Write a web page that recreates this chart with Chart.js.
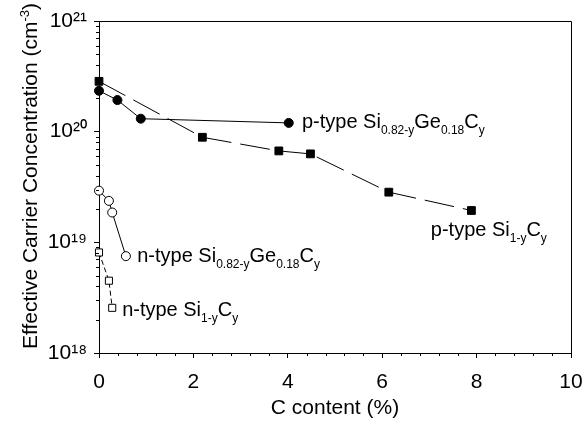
<!DOCTYPE html>
<html>
<head>
<meta charset="utf-8">
<script src="https://cdn.jsdelivr.net/npm/chart.js@4"></script>
<style>
  html, body { margin: 0; padding: 0; background: #fff; }
  #grafico { display: block; }
</style>
</head>
<body>
<canvas id="grafico" width="584" height="424"></canvas>
<script>
// valores
const xPGe = [0, 0.39, 0.885, 4.02];
const yPGe = [2.34e20, 1.93e20, 1.31e20, 1.2e20];

const xPSi = [0, 2.19, 3.81, 4.48, 6.14, 7.89];
const yPSi = [2.85e20, 8.9e19, 6.7e19, 6.3e19, 2.84e19, 1.94e19];

const xNGe = [0, 0.21, 0.28, 0.57];
const yNGe = [2.93e19, 2.37e19, 1.86e19, 7.5e18];

const xNSi = [0, 0.21, 0.28];
const yNSi = [8.1e18, 4.5e18, 2.56e18];

const xTicks = [0, 2, 4, 6, 8, 10];
const yTicks = [1e18, 1e19, 1e20, 1e21];
const yTickLabels = ['10¹⁸', '10¹⁹', '10²⁰', '10²¹'];

// rotulos dentro do grafico (posicao em coordenadas dos dados)
const rotulos = [
  { x: 4.30, y: 1.07e20, partes: [['p-type Si', 0], ['0.82-y', 1], ['Ge', 0], ['0.18', 1], ['C', 0], ['y', 1]] },
  { x: 7.03, y: 1.13e19, partes: [['p-type Si', 0], ['1-y', 1], ['C', 0], ['y', 1]] },
  { x: 0.81, y: 6.7e18, partes: [['n-type Si', 0], ['0.82-y', 1], ['Ge', 0], ['0.18', 1], ['C', 0], ['y', 1]] },
  { x: 0.49, y: 2.14e18, partes: [['n-type Si', 0], ['1-y', 1], ['C', 0], ['y', 1]] }
];

const FONTE = '"Liberation Sans", Arial, Helvetica, sans-serif';

function pontos(xs, ys) {
  return xs.map((x, i) => ({ x: x, y: ys[i] }));
}

// desenha texto com subscritos / sobrescritos
function textoRico(ctx, x, y, partes, tam, tamPeq, desloc) {
  let cx = x;
  partes.forEach(p => {
    ctx.font = (p[1] ? tamPeq : tam) + 'px ' + FONTE;
    ctx.fillText(p[0], cx, y + (p[1] ? desloc : 0));
    cx += ctx.measureText(p[0]).width;
  });
}

function larguraRica(ctx, partes, tam, tamPeq) {
  let w = 0;
  partes.forEach(p => {
    ctx.font = (p[1] ? tamPeq : tam) + 'px ' + FONTE;
    w += ctx.measureText(p[0]).width;
  });
  return w;
}

const extras = {
  id: 'extras',
  afterDraw(chart) {
    const ctx = chart.ctx;
    const a = chart.chartArea;
    const sx = chart.scales.x;
    const sy = chart.scales.y;
    ctx.save();
    ctx.strokeStyle = '#000';
    ctx.lineWidth = 1;

    // moldura de cima e da direita
    ctx.beginPath();
    ctx.moveTo(a.left, a.top + 0.5);
    ctx.lineTo(a.right + 0.5, a.top + 0.5);
    ctx.lineTo(a.right + 0.5, a.bottom);
    ctx.stroke();

    // ticks menores
    ctx.beginPath();
    for (let v = 0.4; v < 10; v += 0.4) {
      if (Math.abs(v / 2 - Math.round(v / 2)) < 1e-6) continue;
      const px = Math.round(sx.getPixelForValue(v)) + 0.5;
      ctx.moveTo(px, a.bottom);
      ctx.lineTo(px, a.bottom + 3);
    }
    for (let e = 18; e < 21; e++) {
      for (let m = 2; m <= 9; m++) {
        const py = Math.round(sy.getPixelForValue(m * Math.pow(10, e))) + 0.5;
        ctx.moveTo(a.left, py);
        ctx.lineTo(a.left - 3, py);
      }
    }
    ctx.stroke();

    // titulo do eixo y
    ctx.fillStyle = '#000';
    ctx.textBaseline = 'alphabetic';
    ctx.textAlign = 'left';
    const tituloY = [['Effective Carrier Concentration (cm', 0], ['-3', 1], [')', 0]];
    const w = larguraRica(ctx, tituloY, 21, 13);
    ctx.translate(37, (a.top + a.bottom) / 2 - 11);
    ctx.rotate(-Math.PI / 2);
    textoRico(ctx, -w / 2, 0, tituloY, 21, 13, -8);
    ctx.restore();

    // rotulos das series
    ctx.save();
    ctx.fillStyle = '#000';
    ctx.textBaseline = 'alphabetic';
    ctx.textAlign = 'left';
    rotulos.forEach(r => {
      textoRico(ctx, sx.getPixelForValue(r.x), sy.getPixelForValue(r.y), r.partes, 20, 12, 6);
    });
    ctx.restore();
  }
};

const ctx = document.getElementById('grafico').getContext('2d');

new Chart(ctx, {
  type: 'scatter',
  data: {
    datasets: [
      {
        label: 'p-type SiGeC',
        data: pontos(xPGe, yPGe),
        showLine: true,
        borderColor: '#000',
        backgroundColor: '#000',
        borderWidth: 1,
        pointStyle: 'circle',
        pointRadius: 4.5,
        pointBorderWidth: 1
      },
      {
        label: 'p-type SiC',
        data: pontos(xPSi, yPSi),
        showLine: true,
        borderColor: '#000',
        backgroundColor: '#000',
        borderWidth: 1,
        borderDash: [30, 9],
        pointStyle: 'rect',
        pointRadius: 5.5,
        pointBorderWidth: 1
      },
      {
        label: 'n-type SiGeC',
        data: pontos(xNGe, yNGe),
        showLine: true,
        borderColor: '#000',
        backgroundColor: '#fff',
        borderWidth: 1,
        pointStyle: 'circle',
        pointRadius: 4.5,
        pointBorderWidth: 1
      },
      {
        label: 'n-type SiC',
        data: pontos(xNSi, yNSi),
        showLine: true,
        borderColor: '#000',
        backgroundColor: '#fff',
        borderWidth: 1,
        borderDash: [5, 3],
        pointStyle: 'rect',
        pointRadius: 5,
        pointBorderWidth: 1
      }
    ]
  },
  options: {
    responsive: false,
    animation: false,
    devicePixelRatio: 1,
    clip: false,
    layout: { padding: { top: 21, right: 13, left: 0, bottom: 0 } },
    plugins: {
      legend: { display: false },
      tooltip: { enabled: false }
    },
    scales: {
      x: {
        type: 'linear',
        min: 0,
        max: 10,
        afterBuildTicks: scale => { scale.ticks = xTicks.map(v => ({ value: v })); },
        afterFit: scale => { scale.height = 71; scale.paddingLeft = 0; scale.paddingRight = 0; },
        grid: { drawOnChartArea: false, tickLength: 5, tickColor: '#000' },
        border: { color: '#000', width: 1 },
        ticks: {
          color: '#000',
          padding: 12,
          maxRotation: 0,
          autoSkip: false,
          font: { family: FONTE, size: 21 }
        },
        title: {
          display: true,
          text: 'C content (%)',
          color: '#000',
          padding: { top: 4, bottom: 3 },
          font: { family: FONTE, size: 21 }
        }
      },
      y: {
        type: 'logarithmic',
        min: 1e18,
        max: 1e21,
        afterBuildTicks: scale => { scale.ticks = yTicks.map(v => ({ value: v })); },
        afterFit: scale => { scale.width = 99; scale.paddingTop = 0; scale.paddingBottom = 0; },
        grid: { drawOnChartArea: false, tickLength: 5, tickColor: '#000' },
        border: { color: '#000', width: 1 },
        ticks: {
          color: '#000',
          padding: 7,
          autoSkip: false,
          font: { family: FONTE, size: 21 },
          callback: (v) => yTickLabels[yTicks.indexOf(v)] || ''
        }
      }
    }
  },
  plugins: [extras]
});
</script>
</body>
</html>
